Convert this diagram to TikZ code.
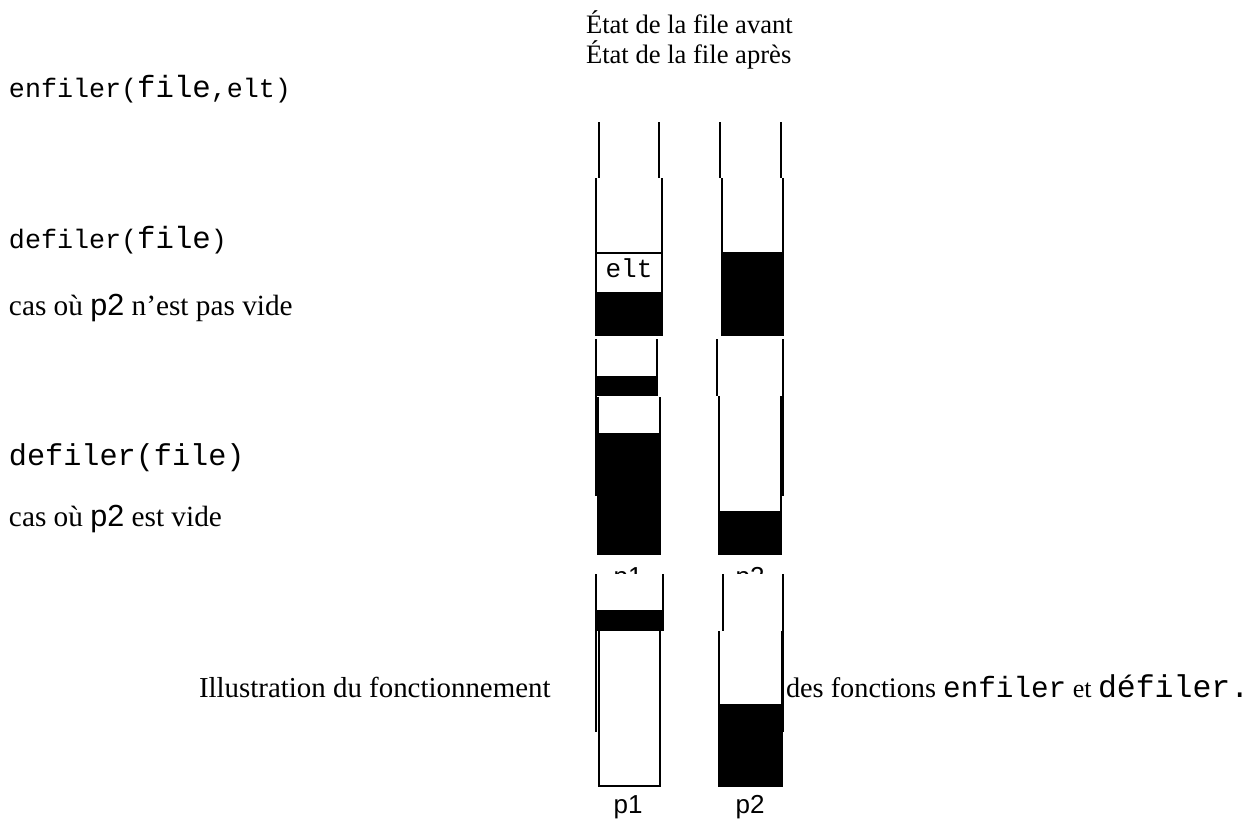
\documentclass[tikz,border=0pt]{standalone}
\usepackage{fontspec}
\setmainfont{Liberation Serif}
\setmonofont{Liberation Mono}
\newfontfamily\psans{Liberation Sans}
\newcommand\fs[1]{\fontsize{#1}{#1}\selectfont}
\newcommand\plab[1]{{\psans\fs{26}#1}}
\begin{document}
\begin{tikzpicture}[x=1pt,y=-1pt,
  txt/.style={inner sep=0pt, outer sep=0pt, anchor=base west},
  lab/.style={inner sep=0pt, outer sep=0pt, anchor=base},
  wall/.style={line width=2pt}]
\useasboundingbox[fill=white] (0,0) rectangle (1248,819);

% ---- texts
\node[txt] (h1) at (586,33) {\fs{26.6}État de la file avant};
\node[txt] (h2) at (586,63) {\fs{26.6}État de la file après};
\node[txt] (enf) at (9,97) {\ttfamily\fs{26.7}enfiler(\fs{30.7}file\fs{26.7},elt)};
\node[txt] (def1) at (9,248) {\ttfamily\fs{26.7}defiler(\fs{30.7}file\fs{26.7})};
\node[txt] (cas1) at (9,315) {\fs{29.3}cas où {\psans\fs{30.5}p2} n’est pas vide};
\node[txt] (def2) at (9,465) {\ttfamily\fs{30.2}defiler(file)};
\node[txt] (cas2) at (9,526) {\fs{29.3}cas où {\psans\fs{30.5}p2} est vide};
\node[txt] (ill) at (199,697) {\fs{28.9}Illustration du fonctionnement};
\node[txt] (des) at (786,697) {\fs{28.3}des fonctions {\ttfamily\fs{29.3}enfiler}\fs{26} et {\ttfamily\fs{31.5}défiler.}};

% ---- left stack (p1)
\draw[wall] (599,122) -- (599,178);
\draw[wall] (659,122) -- (659,178);
\fill (596,292) rectangle (662,335);
\draw[wall] (596,178) -- (596,335) -- (662,335) -- (662,178);
\draw[wall] (596,253) -- (662,253);
\node[lab] (elt) at (629,277) {\ttfamily\fs{26}elt};
\fill (596,376) rectangle (657,396);
\draw[wall] (596,339) -- (596,496);
\draw[wall] (657,339) -- (657,396);
\fill (598,433) rectangle (660,554);
\draw[wall] (598,397) -- (598,554) -- (660,554) -- (660,397);
\node[lab] (p1a) at (628,585) {\plab{p1}};
\fill[white] (597,574) rectangle (662,631);
\fill (596,610) rectangle (663,631);
\draw[wall] (596,574) -- (596,732);
\draw[wall] (663,574) -- (663,631);
\draw[wall] (599,631) -- (599,786) -- (660,786) -- (660,631);
\node[lab] (p1b) at (628,813) {\plab{p1}};

% ---- right stack (p2)
\draw[wall] (720,122) -- (720,178);
\draw[wall] (781,122) -- (781,178);
\fill (722,252) rectangle (783,335);
\draw[wall] (722,178) -- (722,335) -- (783,335) -- (783,178);
\draw[wall] (717,339) -- (717,396);
\draw[wall] (783,339) -- (783,496);
\fill (719,511) rectangle (781,554);
\draw[wall] (719,396) -- (719,554) -- (781,554) -- (781,396);
\node[lab] (p2a) at (750,585) {\plab{p2}};
\fill[white] (718,574) rectangle (782,631);
\draw[wall] (723,574) -- (723,631);
\draw[wall] (783,574) -- (783,732);
\fill (719,704) rectangle (782,786);
\draw[wall] (719,631) -- (719,786) -- (782,786) -- (782,631);
\node[lab] (p2b) at (750,813) {\plab{p2}};
\end{tikzpicture}
\end{document}
